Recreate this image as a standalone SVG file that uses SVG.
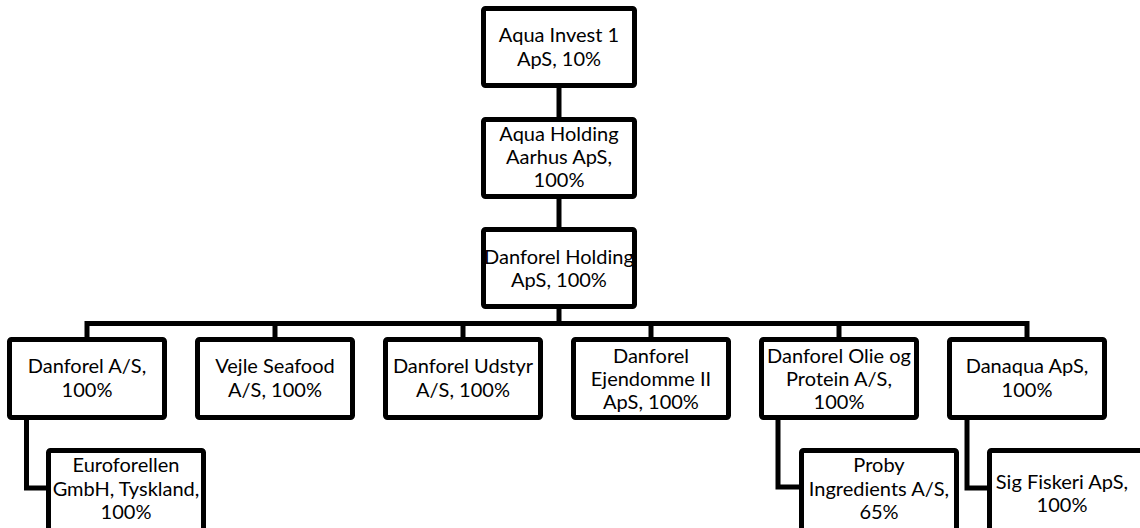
<svg xmlns="http://www.w3.org/2000/svg" width="1140" height="528" viewBox="0 0 1140 528">
<style>
.box{fill:#fff;stroke:#000;stroke-width:5;}
.con{fill:none;stroke:#000;stroke-width:5;stroke-linejoin:miter;}
text{font-family:Lato,"Open Sans",sans-serif;font-size:20px;fill:#000;text-anchor:middle;}
</style>
<rect width="1140" height="528" fill="#fff"/>
<g id="connectors">
<path class="con" d="M559,86 V119"/>
<path class="con" d="M559,196 V229"/>
<path class="con" d="M559,306 V323.5"/>
<path class="con" d="M87,339 V323.5 H1027 V339"/>
<path class="con" d="M275,323.5 V339"/>
<path class="con" d="M463,323.5 V339"/>
<path class="con" d="M651,323.5 V339"/>
<path class="con" d="M839,323.5 V339"/>
<path class="con" d="M26.5,418 V488 H49"/>
<path class="con" d="M778,418 V487 H802"/>
<path class="con" d="M967,418 V488 H990"/>
</g>
<g id="aqua-invest">
<rect class="box" x="483.5" y="8.5" width="151" height="77" rx="2"/>
<text x="559" y="42">Aqua Invest 1</text>
<text x="559" y="66">ApS, 10%</text>
</g>
<g id="aqua-holding">
<rect class="box" x="483.5" y="119.5" width="151" height="77" rx="2"/>
<text x="559" y="141">Aqua Holding</text>
<text x="559" y="164">Aarhus ApS,</text>
<text x="559" y="187">100%</text>
</g>
<g id="danforel-holding">
<rect class="box" x="483.5" y="229.5" width="151" height="77" rx="2"/>
<text x="559" y="264">Danforel Holding</text>
<text x="559" y="287">ApS, 100%</text>
</g>
<g id="danforel-as">
<rect class="box" x="9.5" y="339.5" width="155" height="78" rx="2"/>
<text x="87" y="373">Danforel A/S,</text>
<text x="87" y="397">100%</text>
</g>
<g id="vejle-seafood">
<rect class="box" x="197.5" y="339.5" width="155" height="78" rx="2"/>
<text x="275" y="373">Vejle Seafood</text>
<text x="275" y="397">A/S, 100%</text>
</g>
<g id="danforel-udstyr">
<rect class="box" x="385.5" y="339.5" width="155" height="78" rx="2"/>
<text x="463" y="373">Danforel Udstyr</text>
<text x="463" y="397">A/S, 100%</text>
</g>
<g id="danforel-ejendomme">
<rect class="box" x="573.5" y="339.5" width="155" height="78" rx="2"/>
<text x="651" y="363">Danforel</text>
<text x="651" y="386">Ejendomme II</text>
<text x="651" y="409">ApS, 100%</text>
</g>
<g id="danforel-olie">
<rect class="box" x="761.5" y="339.5" width="155" height="78" rx="2"/>
<text x="839" y="363">Danforel Olie og</text>
<text x="839" y="386">Protein A/S,</text>
<text x="839" y="409">100%</text>
</g>
<g id="danaqua">
<rect class="box" x="949.5" y="339.5" width="155" height="78" rx="2"/>
<text x="1027" y="373">Danaqua ApS,</text>
<text x="1027" y="397">100%</text>
</g>
<g id="euroforellen">
<rect class="box" x="48.5" y="450.5" width="155" height="82" rx="2"/>
<text x="126" y="472">Euroforellen</text>
<text x="126" y="496">GmbH, Tyskland,</text>
<text x="126" y="519">100%</text>
</g>
<g id="proby">
<rect class="box" x="801.5" y="450.5" width="155" height="82" rx="2"/>
<text x="879" y="472">Proby</text>
<text x="879" y="496">Ingredients A/S,</text>
<text x="879" y="519">65%</text>
</g>
<g id="sig-fiskeri">
<rect class="box" x="989.5" y="450.5" width="160" height="82" rx="2"/>
<text x="1062" y="489">Sig Fiskeri ApS,</text>
<text x="1062" y="512">100%</text>
</g>
</svg>
